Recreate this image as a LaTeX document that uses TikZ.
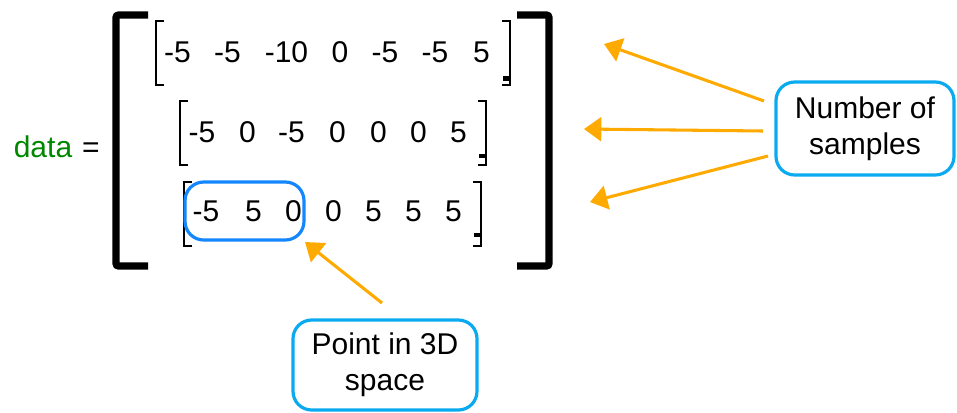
\documentclass[tikz,border=0pt]{standalone}
\usepackage{fontspec}
\setmainfont{Liberation Sans}
\usetikzlibrary{arrows.meta}
\definecolor{arr}{RGB}{255,170,0}
\definecolor{boxblue}{RGB}{10,170,240}
\definecolor{ptblue}{RGB}{20,135,255}
\definecolor{datagreen}{RGB}{0,135,0}
\begin{document}
\begin{tikzpicture}[x=0.75pt,y=-0.75pt,
  num/.style={inner sep=0pt,anchor=base,font=\fontsize{22.5}{27}\selectfont},
  lbl/.style={draw=boxblue,line width=2.4pt,rounded corners=14pt,align=center,inner sep=0pt,font=\fontsize{22.5}{27}\selectfont},
  conn/.style={draw=arr,line width=2.3pt,-{Triangle[length=13pt,width=18pt]}},
  inbr/.style={line width=1.5pt,line cap=rect},
  bigbr/.style={line width=5.5pt,rounded corners=2pt}]
\useasboundingbox (0,0) rectangle (957,412);
% data =
\node[num,text=datagreen] (data) at (43,157) {data};
\node[num] (eq) at (91,157) {=};
% big brackets
\draw[bigbr] (148,15) -- (116,15) -- (116,266) -- (148,266);
\draw[bigbr] (517,15) -- (549,15) -- (549,266) -- (517,266);
% row 1
\foreach \v/\x [count=\i] in {-5/177.5,-5/227.5,-10/286.5,0/340,-5/385,-5/435,5/481.5}
  \node[num] (a\i) at (\x,62) {\v};
\draw[inbr] (163,21) -- (156,21) -- (156,85) -- (163,85);
\draw[inbr] (503,21) -- (510,21) -- (510,85) -- (503,85);
\fill (503,76) rectangle (510,81);
% row 2
\foreach \v/\x [count=\i] in {-5/202,0/247.5,-5/291.5,0/337.5,0/378.5,0/418.5,5/458.5}
  \node[num] (b\i) at (\x,142) {\v};
\draw[inbr] (187,101) -- (180,101) -- (180,165) -- (187,165);
\draw[inbr] (479,101) -- (486,101) -- (486,165) -- (479,165);
\fill (479,154) rectangle (486,158);
% row 3
\foreach \v/\x [count=\i] in {-5/206,5/253.5,0/293.5,0/333.5,5/373.5,5/413.5,5/453.5}
  \node[num] (c\i) at (\x,221) {\v};
\draw[inbr] (191,182) -- (184,182) -- (184,246) -- (191,246);
\draw[inbr] (474,182) -- (481,182) -- (481,246) -- (474,246);
\fill (474,233) rectangle (481,237);
% point box
\node[draw=ptblue,line width=2.4pt,rounded corners=14pt,minimum width=119\pgflinewidth,inner sep=0pt] (pt) at (244.5,211) [minimum width=89.25pt,minimum height=43.5pt] {};
% labels
\node[lbl,minimum width=133.5pt,minimum height=69.75pt] (ns) at (865,128.5) {Number of\\samples};
\node[lbl,minimum width=138pt,minimum height=67.5pt] (p3) at (385,365) {Point in 3D\\space};
% connectors
\coordinate (s1) at (764,101); \coordinate (t1) at (604,44);
\coordinate (s2) at (763,131); \coordinate (t2) at (584,129);
\coordinate (s3) at (768,156); \coordinate (t3) at (590,202);
\coordinate (s4) at (382,303); \coordinate (t4) at (305,242);
\draw[conn] (s1) -- (t1);
\draw[conn] (s2) -- (t2);
\draw[conn] (s3) -- (t3);
\draw[conn] (s4) -- (t4);
\end{tikzpicture}
\end{document}
